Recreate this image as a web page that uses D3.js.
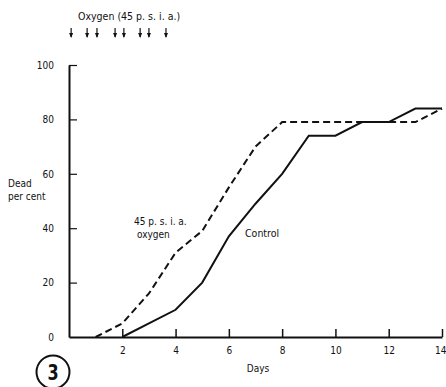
<!DOCTYPE html>
<html>
<head>
<meta charset="utf-8">
<script src="https://cdn.jsdelivr.net/npm/d3@7"></script>
<style>
  body { margin: 0; background: #fff; }
  svg text { font-family: "DejaVu Sans Condensed", "Liberation Sans Narrow", "Liberation Sans", sans-serif; font-stretch: condensed; fill: #111; }
</style>
</head>
<body>
<div id="chart"></div>
<script>
(function(){
  'use strict';

  // 45 p.s.i.a. oxygen, dead per cent
  var oxygenDays   = [1, 2, 3, 4, 5, 6, 7, 8, 13, 14];
  var oxygenDead   = [0, 5, 16, 31, 39, 55, 70, 79, 79, 84];
  // control, dead per cent
  var controlDays  = [2, 3, 4, 5, 6, 7, 8, 9, 10, 11, 12, 13, 14];
  var controlDead  = [0, 5, 10, 20, 37, 49, 60, 74, 74, 79, 79, 84, 84];
  // exposure times (days) marked by arrows
  var exposures    = [0.08, 0.68, 1.05, 1.73, 2.06, 2.67, 3.0, 3.64];
  var xTicks = [2, 4, 6, 8, 10, 12, 14];
  var yTicks = [0, 20, 40, 60, 80, 100];

  var width = 446, height = 387;

  var svg = d3.select('#chart')
    .append('svg')
    .attr('width', width)
    .attr('height', height);

  var x = d3.scaleLinear().domain([0, 14]).range([69, 442]);
  var y = d3.scaleLinear().domain([0, 100]).range([337, 65]);

  // x axis, ticks point up
  var xAxis = d3.axisBottom(x)
    .tickValues(xTicks)
    .tickSize(-8)
    .tickPadding(10)
    .tickSizeOuter(0);
  var gx = svg.append('g')
    .attr('transform', 'translate(0,' + y(0) + ')')
    .call(xAxis);
  gx.select('.domain').attr('stroke', '#111').attr('stroke-width', 2);
  gx.selectAll('.tick line').attr('stroke', '#111').attr('stroke-width', 1.5);
  gx.selectAll('.tick text').attr('font-size', 10).attr('fill', '#111');
  // last label sits at the right edge of the page
  gx.selectAll('.tick text')
    .filter(function(d){ return d === 14; })
    .attr('text-anchor', 'end')
    .attr('x', 4);

  // y axis, ticks point right
  var yAxis = d3.axisLeft(y)
    .tickValues(yTicks)
    .tickSize(-8)
    .tickPadding(15)
    .tickSizeOuter(0);
  var gy = svg.append('g')
    .attr('transform', 'translate(' + x(0) + ',0)')
    .call(yAxis);
  gy.select('.domain').attr('stroke', '#111').attr('stroke-width', 2);
  gy.selectAll('.tick line').attr('stroke', '#111').attr('stroke-width', 1.2)
    .attr('display', function(d){ return d === 0 ? 'none' : null; });
  gy.selectAll('.tick text').attr('font-size', 10).attr('fill', '#111');

  var line = d3.line()
    .x(function(d){ return x(d[0]); })
    .y(function(d){ return y(d[1]); });

  svg.append('path')
    .datum(d3.zip(oxygenDays, oxygenDead))
    .attr('d', line)
    .attr('fill', 'none')
    .attr('stroke', '#111')
    .attr('stroke-width', 2)
    .attr('stroke-dasharray', '7,4');

  svg.append('path')
    .datum(d3.zip(controlDays, controlDead))
    .attr('d', line)
    .attr('fill', 'none')
    .attr('stroke', '#111')
    .attr('stroke-width', 2);

  // exposure arrows
  var arrows = svg.append('g');
  exposures.forEach(function(d){
    var ax = x(d);
    arrows.append('line')
      .attr('x1', ax).attr('x2', ax)
      .attr('y1', 28).attr('y2', 37)
      .attr('stroke', '#111').attr('stroke-width', 1.2);
    arrows.append('path')
      .attr('d', 'M' + (ax - 2) + ',33L' + ax + ',38L' + (ax + 2) + ',33Z')
      .attr('fill', '#111');
  });

  svg.append('text').attr('x', 78).attr('y', 20).attr('font-size', 10.5)
    .text('Oxygen (45 p. s. i. a.)');

  svg.append('text').attr('x', 8).attr('y', 187).attr('font-size', 10)
    .text('Dead');
  svg.append('text').attr('x', 8).attr('y', 200).attr('font-size', 10)
    .text('per cent');

  svg.append('text').attr('x', 134).attr('y', 225).attr('font-size', 10)
    .text('45 p. s. i. a.');
  svg.append('text').attr('x', 137).attr('y', 238).attr('font-size', 10)
    .text('oxygen');

  svg.append('text').attr('x', 245).attr('y', 237).attr('font-size', 10.5)
    .text('Control');

  svg.append('text').attr('x', 258).attr('y', 372).attr('font-size', 10)
    .attr('text-anchor', 'middle').text('Days');

  // figure number
  svg.append('circle').attr('cx', 53).attr('cy', 372).attr('r', 16.5)
    .attr('fill', 'none').attr('stroke', '#111').attr('stroke-width', 2);
  svg.append('text')
    .attr('transform', 'translate(53,380) scale(0.85,1)')
    .attr('font-size', 21)
    .attr('font-weight', 'bold').attr('text-anchor', 'middle').text('3');
})();
</script>
</body>
</html>
